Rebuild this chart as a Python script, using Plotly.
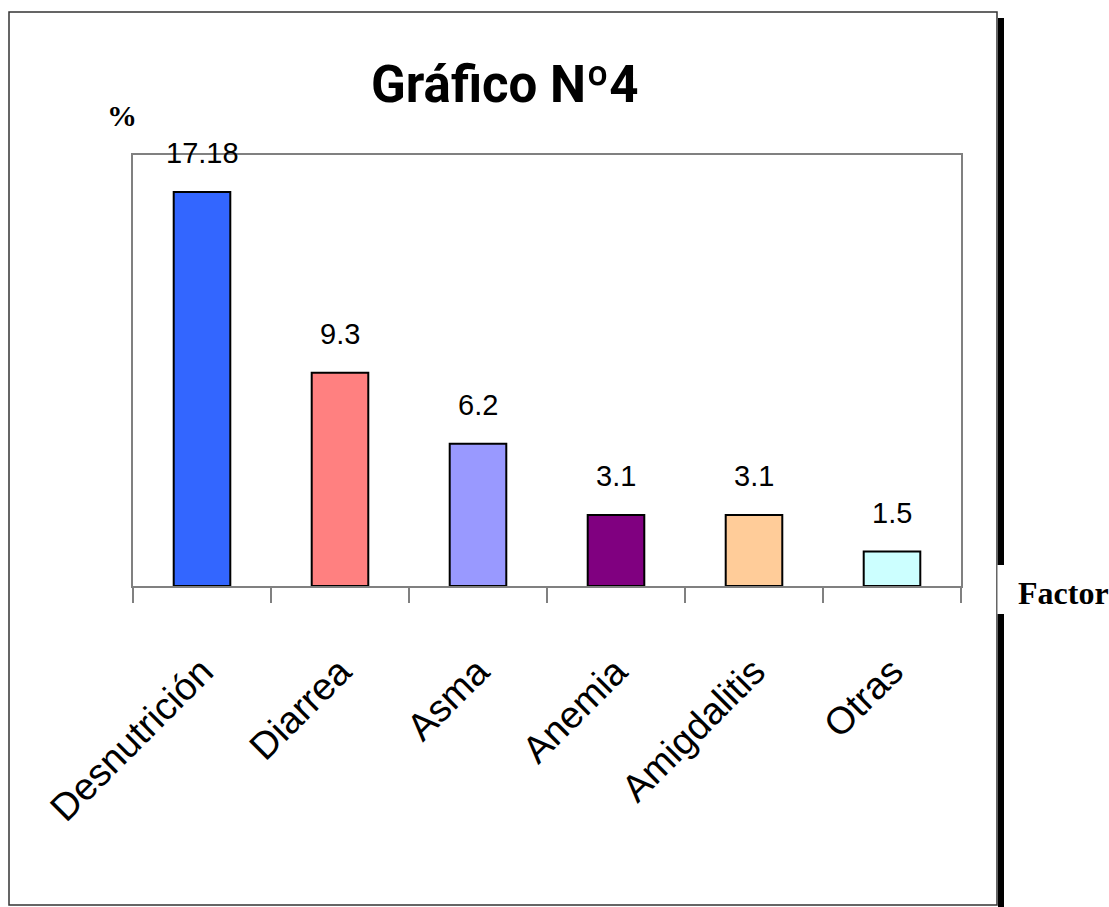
import plotly.graph_objects as go

# Factores y porcentajes
categorias = ["Desnutrición", "Diarrea", "Asma", "Anemia", "Amigdalitis", "Otras"]
porcentajes = [17.18, 9.3, 6.2, 3.1, 3.1, 1.5]
etiquetas = ["17.18", "9.3", "6.2", "3.1", "3.1", "1.5"]
colores = ["#3366FF", "#FF8080", "#9999FF", "#800080", "#FFCC99", "#CCFFFF"]

W, H = 1109, 907
# plot area in pixels
L, R, T, B = 133, 961, 155, 586


def fx(px):
    return (px - L) / (R - L)


def fy(py):
    return (B - py) / (B - T)


fig = go.Figure()
fig.add_trace(go.Bar(
    x=categorias,
    y=porcentajes,
    marker=dict(color=colores, line=dict(color="black", width=2)),
    width=0.41,
    hoverinfo="skip",
))

# value labels above each bar
for c, v, t in zip(categorias, porcentajes, etiquetas):
    fig.add_annotation(
        x=c, y=v, text=t, showarrow=False, yanchor="bottom", yshift=21,
        font=dict(family="Liberation Sans, Arial, sans-serif", size=29, color="black"),
    )

# outer frame, shadow and the label box on the right
fig.add_shape(type="rect", xref="paper", yref="paper",
              x0=fx(998), x1=fx(1004), y0=fy(18), y1=fy(910),
              fillcolor="black", line=dict(width=0), layer="below")
fig.add_shape(type="rect", xref="paper", yref="paper",
              x0=fx(9), x1=fx(997), y0=fy(12), y1=fy(905),
              fillcolor="white", line=dict(color="#333333", width=1.5), layer="below")
fig.add_shape(type="rect", xref="paper", yref="paper",
              x0=fx(997.5), x1=fx(1112), y0=fy(565), y1=fy(614),
              fillcolor="white", line=dict(width=0), layer="above")

fig.add_annotation(
    x=fx(505), y=fy(103), xref="paper", yref="paper", text="<b>Gráfico Nº4</b>",
    showarrow=False, xanchor="center", yanchor="bottom", yshift=-13,
    font=dict(family="Roboto, Liberation Sans, sans-serif", size=51, color="black"),
)
fig.add_annotation(
    x=fx(122), y=fy(126), xref="paper", yref="paper", text="<b>%</b>",
    showarrow=False, xanchor="center", yanchor="bottom", yshift=-8,
    font=dict(family="Liberation Serif, Times New Roman, serif", size=30, color="black"),
)
fig.add_annotation(
    x=fx(1016), y=fy(605), xref="paper", yref="paper", text="<b>Factor</b>",
    showarrow=False, xanchor="left", yanchor="bottom", yshift=-8,
    font=dict(family="Liberation Serif, Times New Roman, serif", size=32, color="black"),
)

fig.update_layout(
    width=W, height=H,
    margin=dict(l=L, r=W - R, t=T, b=H - B, pad=0),
    paper_bgcolor="white",
    plot_bgcolor="#C0C0C0",
    showlegend=False,
    bargap=0.59,
)
fig.update_xaxes(
    type="category",
    tickson="boundaries",
    ticks="outside", ticklen=15, tickwidth=2, tickcolor="#808080",
    tickangle=-45,
    ticklabelstandoff=46,
    tickfont=dict(family="Liberation Sans, Arial, sans-serif", size=38, color="black"),
    showline=True, linecolor="#808080", linewidth=2, mirror=True,
    showgrid=False, fixedrange=True,
)
fig.update_yaxes(
    range=[0, 18.79],
    showticklabels=False, ticks="",
    showline=True, linecolor="#808080", linewidth=2, mirror=True,
    showgrid=False, zeroline=False, fixedrange=True,
)

fig.write_html("out.html", config={"displayModeBar": False})
